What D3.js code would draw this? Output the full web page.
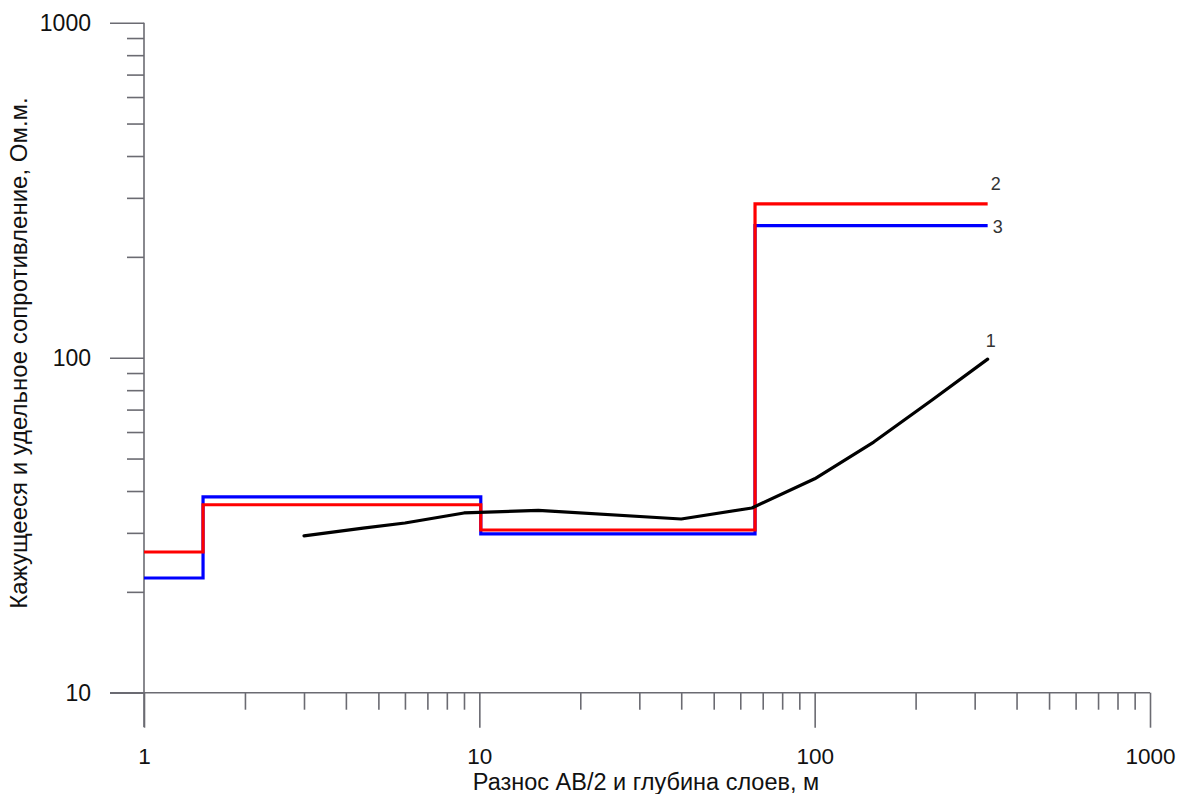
<!DOCTYPE html>
<html>
<head>
<meta charset="utf-8">
<script src="https://cdn.jsdelivr.net/npm/d3@7"></script>
<style>
  body { margin: 0; background: #fff; }
  svg { display: block; }
  text { font-family: "Liberation Sans", Arial, sans-serif; }
</style>
</head>
<body>
<div id="chart"></div>
<script>
// Apparent resistivity curve (1) and two layered models (2, 3)
const abHalf = [3, 4.5, 6, 9, 15, 40, 65, 100, 150, 225, 328]
const rhoApparent = [29.4, 31, 32.1, 34.4, 35, 33, 35.6, 43.5, 56, 75, 99]

// layer boundaries (depths) and resistivities for the step models
const modelDepths = [1, 1.5, 10.1, 66.4, 328]
const rhoModel2 = [26.3, 36.4, 30.6, 288]
const rhoModel3 = [22, 38.4, 29.8, 248]

const xMajor = [1, 10, 100, 1000]
const yMajor = [10, 100, 1000]

const width = 1178, height = 794

const svg = d3.select('#chart').append('svg')
    .attr('width', width).attr('height', height)

const x = d3.scaleLog().domain([1, 1000]).range([144, 1150])
const y = d3.scaleLog().domain([10, 1000]).range([692.7, 22.7])

function minors(lo, hi) {
    let out = []
    for (let d = lo; d < hi; d *= 10)
        for (let k = 2; k <= 9; k++) out.push(d * k)
    return out
}

const axisColor = '#6b6b72'

// x axis: minor ticks, then major ticks with labels
const gx = svg.append('g').attr('transform', 'translate(0,' + y(10) + ')')
gx.append('g')
    .call(d3.axisBottom(x).tickValues(minors(1, 1000)).tickSize(17).tickFormat(''))
gx.append('g')
    .call(d3.axisBottom(x).tickValues(xMajor).tickSize(35).tickFormat(d3.format('d')))
gx.selectAll('.domain').remove()
gx.append('line').attr('x1', 110).attr('x2', x(1000)).attr('y1', 0).attr('y2', 0)
    .attr('stroke', axisColor).attr('stroke-width', 1.6)
gx.selectAll('line').attr('stroke', axisColor).attr('stroke-width', 1.6)
gx.selectAll('text')
    .attr('y', 71).attr('dy', 0)
    .attr('font-size', 22.5).attr('fill', '#111')
    .attr('font-family', '"Liberation Sans", Arial, sans-serif')

// y axis
const gy = svg.append('g').attr('transform', 'translate(' + x(1) + ',0)')
gy.append('g')
    .call(d3.axisLeft(y).tickValues(minors(10, 1000)).tickSize(17).tickFormat(''))
gy.append('g')
    .call(d3.axisLeft(y).tickValues(yMajor).tickSize(34).tickFormat(d3.format('d')))
gy.selectAll('.domain').remove()
gy.append('line').attr('x1', 0).attr('x2', 0).attr('y1', y(1000)).attr('y2', 727)
    .attr('stroke', axisColor).attr('stroke-width', 1.6)
gy.selectAll('line').attr('stroke', axisColor).attr('stroke-width', 1.6)
gy.selectAll('text')
    .attr('x', -53).attr('dy', '0.35em')
    .attr('font-size', 23).attr('fill', '#111')
    .attr('font-family', '"Liberation Sans", Arial, sans-serif')

// axis titles
svg.append('text')
    .attr('x', 646).attr('y', 789.5)
    .attr('text-anchor', 'middle').attr('font-size', 23.5).attr('fill', '#111')
    .text('Разнос АВ/2 и глубина слоев, м')

svg.append('text')
    .attr('transform', 'translate(27,353) rotate(-90)')
    .attr('text-anchor', 'middle').attr('font-size', 24).attr('fill', '#111')
    .text('Кажущееся и удельное сопротивление, Ом.м.')

// step models
function steps(vals) {
    let pts = []
    vals.forEach((v, i) => {
        pts.push([modelDepths[i], v])
        pts.push([modelDepths[i + 1], v])
    })
    return pts
}

const line = d3.line().x(d => x(d[0])).y(d => y(d[1]))

svg.append('path').datum(steps(rhoModel3))
    .attr('d', line).attr('fill', 'none')
    .attr('stroke', '#0000ff').attr('stroke-width', 3.2)

svg.append('path').datum(steps(rhoModel2))
    .attr('d', line).attr('fill', 'none')
    .attr('stroke', '#ff0000').attr('stroke-width', 3.2)

svg.append('path').datum(abHalf.map((d, i) => [d, rhoApparent[i]]))
    .attr('d', line).attr('fill', 'none')
    .attr('stroke', '#000').attr('stroke-width', 3.2)
    .attr('stroke-linecap', 'round').attr('stroke-linejoin', 'round')

// curve numbers
const curveLabels = [
    { t: '1', px: abHalf[abHalf.length - 1], v: rhoApparent[rhoApparent.length - 1], dx: 3, dy: -12 },
    { t: '2', px: modelDepths[4], v: rhoModel2[3], dx: 8, dy: -14 },
    { t: '3', px: modelDepths[4], v: rhoModel3[3], dx: 10, dy: 7 }
]
svg.selectAll('.clabel').data(curveLabels).enter().append('text')
    .attr('class', 'clabel')
    .attr('x', d => x(d.px) + d.dx)
    .attr('y', d => y(d.v) + d.dy)
    .attr('text-anchor', 'middle')
    .attr('font-family', '"Open Sans", "Noto Sans", sans-serif')
    .attr('font-size', 18).attr('fill', '#333')
    .text(d => d.t)
</script>
</body>
</html>
